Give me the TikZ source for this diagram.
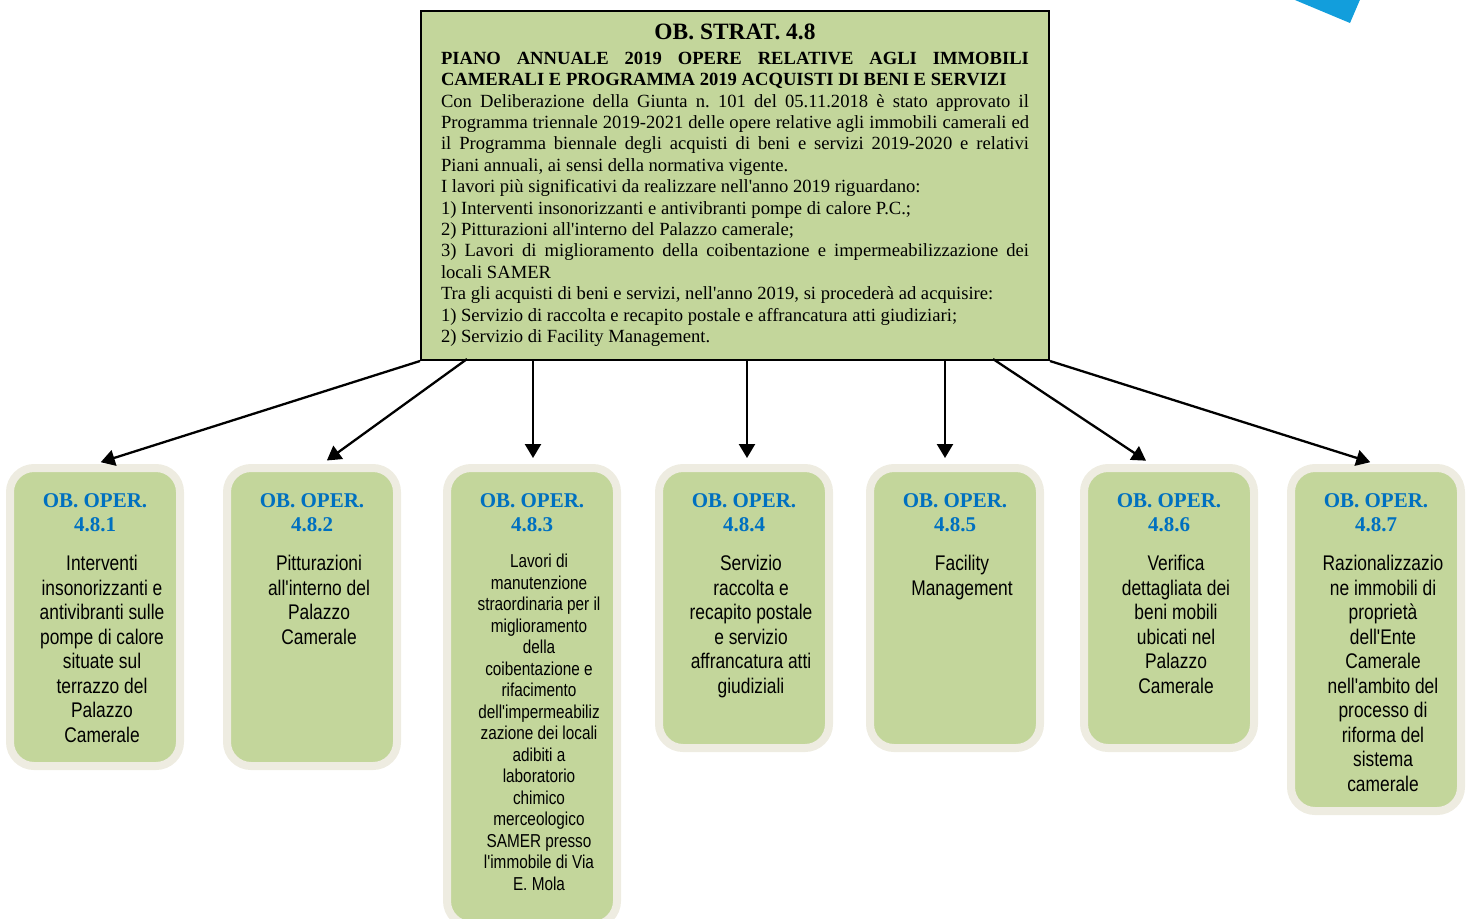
\documentclass[tikz,border=0pt]{standalone}
\usepackage{fontspec}
\setmainfont{Liberation Serif}
\newfontfamily\narrowsans[FakeStretch=0.82]{Liberation Sans}
\usepackage{tikz}
\usetikzlibrary{arrows.meta,calc}
\usepackage{xcolor}
\definecolor{obgreen}{RGB}{195,214,155}
\definecolor{obcream}{RGB}{238,236,225}
\definecolor{obblue}{RGB}{0,112,192}
\definecolor{skyblue}{RGB}{18,158,220}
\frenchspacing

\begin{document}
\begin{tikzpicture}[x=0.5pt,y=-0.5pt,
    opbox/.style={draw=obcream, line width=4pt, fill=obgreen, rounded corners=12pt, minimum width=85pt, anchor=north, inner sep=0pt},
    optitle/.style={anchor=north, inner sep=0pt, align=center, text=obblue, font=\fontsize{10.5}{12}\selectfont\bfseries},
    optext/.style={anchor=north, inner sep=0pt, align=center, font=\narrowsans\fontsize{10.6}{12.25}\selectfont},
    link/.style={line width=1.15pt, -{Triangle[length=7pt,width=8pt]}, shorten >=3pt}]
\path[use as bounding box, clip] (0,0) rectangle (1472,918);
% corner decoration
\fill[skyblue] (1283,-5) -- (1350,23) -- (1362,-5) -- cycle;
% strategic objective
\node[draw=black, line width=1pt, fill=obgreen, text width=294pt, inner xsep=10pt, inner ysep=0pt,
      minimum height=174.5pt, anchor=north, align=justify, font=\fontsize{9.3}{10.7}\selectfont] (strat) at (735,10) {%
    \parindent=0pt
    {\centering\fontsize{11.7}{13}\selectfont\bfseries OB. STRAT. 4.8\par}\vspace{1.5pt}
    {\bfseries PIANO ANNUALE 2019 OPERE RELATIVE AGLI IMMOBILI\linebreak CAMERALI E PROGRAMMA 2019 ACQUISTI DI BENI E SERVIZI\par}
    Con Deliberazione della Giunta n. 101 del 05.11.2018 è stato approvato il\linebreak
    Programma triennale 2019-2021 delle opere relative agli immobili camerali ed\linebreak
    il Programma biennale degli acquisti di beni e servizi 2019-2020 e relativi\linebreak
    Piani annuali, ai sensi della normativa vigente.\par
    I lavori più significativi da realizzare nell\textquotesingle anno 2019 riguardano:\par
    1) Interventi insonorizzanti e antivibranti pompe di calore P.C.;\par
    2) Pitturazioni all\textquotesingle interno del Palazzo camerale;\par
    3) Lavori di miglioramento della coibentazione e impermeabilizzazione dei\linebreak
    locali SAMER\par
    Tra gli acquisti di beni e servizi, nell\textquotesingle anno 2019, si procederà ad acquisire:\par
    1) Servizio di raccolta e recapito postale e affrancatura atti giudiziari;\par
    2) Servizio di Facility Management.\par};
% 4.8.1
\begin{scope}[shift={(95,0)}]
    \node[opbox, minimum height=149pt] (op1) at (0,464) {};
    \node[optitle] (t1) at (0,493) {OB. OPER.\\4.8.1};
    \node[optext] (b1) at (7,555) {Interventi\\insonorizzanti e\\antivibranti sulle\\pompe di calore\\situate sul\\terrazzo del\\Palazzo\\Camerale};
\end{scope}
% 4.8.2
\begin{scope}[shift={(312,0)}]
    \node[opbox, minimum height=149pt] (op2) at (0,464) {};
    \node[optitle] (t2) at (0,493) {OB. OPER.\\4.8.2};
    \node[optext] (b2) at (7,555) {Pitturazioni\\all'interno del\\Palazzo\\Camerale};
\end{scope}
% 4.8.3
\begin{scope}[shift={(532,0)}]
    \node[opbox, minimum height=228.5pt] (op3) at (0,464) {};
    \node[optitle] (t3) at (0,493) {OB. OPER.\\4.8.3};
    \node[optext, font=\narrowsans\fontsize{9.35}{10.75}\selectfont] (b3) at (7,554) {Lavori di\\manutenzione\\straordinaria per il\\miglioramento\\della\\coibentazione e\\rifacimento\\dell'impermeabiliz\\zazione dei locali\\adibiti a\\laboratorio\\chimico\\merceologico\\SAMER presso\\l'immobile di Via\\E. Mola};
\end{scope}
% 4.8.4
\begin{scope}[shift={(744,0)}]
    \node[opbox, minimum height=140pt] (op4) at (0,464) {};
    \node[optitle] (t4) at (0,493) {OB. OPER.\\4.8.4};
    \node[optext] (b4) at (7,555) {Servizio\\raccolta e\\recapito postale\\e servizio\\affrancatura atti\\giudiziali};
\end{scope}
% 4.8.5
\begin{scope}[shift={(955,0)}]
    \node[opbox, minimum height=140pt] (op5) at (0,464) {};
    \node[optitle] (t5) at (0,493) {OB. OPER.\\4.8.5};
    \node[optext] (b5) at (7,555) {Facility\\Management};
\end{scope}
% 4.8.6
\begin{scope}[shift={(1169,0)}]
    \node[opbox, minimum height=140pt] (op6) at (0,464) {};
    \node[optitle] (t6) at (0,493) {OB. OPER.\\4.8.6};
    \node[optext] (b6) at (7,555) {Verifica\\dettagliata dei\\beni mobili\\ubicati nel\\Palazzo\\Camerale};
\end{scope}
% 4.8.7
\begin{scope}[shift={(1376,0)}]
    \node[opbox, minimum height=171.5pt] (op7) at (0,464) {};
    \node[optitle] (t7) at (0,493) {OB. OPER.\\4.8.7};
    \node[optext] (b7) at (7,555) {Razionalizzazio\\ne immobili di\\proprietà\\dell'Ente\\Camerale\\nell'ambito del\\processo di\\riforma del\\sistema\\camerale};
\end{scope}
% links
\coordinate (s2) at (467,359);
\coordinate (s3) at (533,359);
\coordinate (s4) at (747,359);
\coordinate (s5) at (945,359);
\coordinate (s6) at (993,359);
\draw[link] (strat.south west) -- (op1.north);
\draw[link] (s2) -- ([xshift=5pt]op2.north);
\draw[link] (s3) -- (s3 |- op3.north);
\draw[link] (s4) -- (s4 |- op4.north);
\draw[link] (s5) -- (s5 |- op5.north);
\draw[link] (s6) -- ([xshift=-9pt]op6.north);
\draw[link] (strat.south east) -- (op7.north);
\end{tikzpicture}
\end{document}
